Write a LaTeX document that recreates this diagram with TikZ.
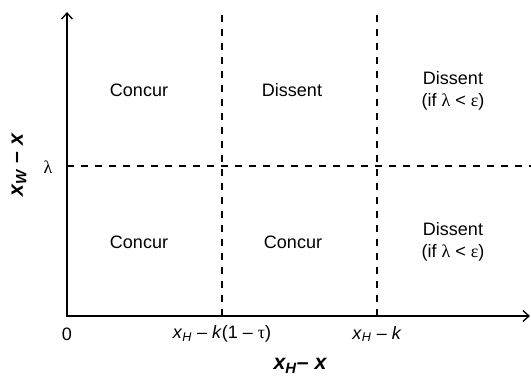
\documentclass[tikz,border=0pt]{standalone}
\usepackage{fontspec}
\usetikzlibrary{arrows.meta}
\setmainfont{Liberation Sans}
\newfontfamily\greekfont{Liberation Serif}
\newcommand{\lam}{{\greekfont λ}}
\newcommand{\eps}{{\greekfont ε}}
\newcommand{\tu}{{\greekfont τ}}
\begin{document}
\begin{tikzpicture}[
    x=0.75pt,y=-0.75pt,
    axis/.style={{Straight Barb[length=4.5pt,width=8pt]}-{Straight Barb[length=4.5pt,width=8pt]},line width=1pt},
    split/.style={line width=0.8pt,dash pattern=on 5.5pt off 5pt},
    cell/.style={align=center,font=\fontsize{13.5}{17}\selectfont},
    tick/.style={font=\fontsize{13.5}{16}\selectfont},
    title/.style={font=\fontsize{16}{18}\selectfont\bfseries\itshape}
]
\useasboundingbox (0,0) rectangle (531,378);
\coordinate (O) at (67,316);
\coordinate (ytop) at (67,12);
\coordinate (xend) at (530,316);
\coordinate (lo1) at (222,316);
\coordinate (hi1) at (222,13);
\coordinate (lo2) at (377,316);
\coordinate (hi2) at (377,13);
\coordinate (lamL) at (67,166);
\coordinate (lamR) at (531,166);
\draw[axis] (ytop) -- (O) -- (xend);
\draw[split] (lo1) -- (hi1);
\draw[split] (lo2) -- (hi2);
\draw[split] (lamL) -- (lamR);
% region labels
\node[cell] (c11) at (139,90) {Concur};
\node[cell] (c12) at (292,90) {Dissent};
\node[cell] (c13) at (453,91) {Dissent\\(if \lam{} < \eps)};
\node[cell] (c21) at (139,242) {Concur};
\node[cell] (c22) at (293,242) {Concur};
\node[cell] (c23) at (453,242) {Dissent\\(if \lam{} < \eps)};
% axis ticks and titles
\node[tick] (zero) at (67,334) {0};
\node[tick] (t1) at (222,334) {\textit{x}\textsubscript{\textit{H}} – \textit{k}(1 – \tu)};
\node[tick] (t2) at (377,334) {\textit{x}\textsubscript{\textit{H}} – \textit{k}};
\node[tick] (lam) at (48,167) {\lam};
\node[title] (xlab) at (300,366) {x\textsubscript{H}– x};
\node[title,rotate=90] (ylab) at (19,165) {x\textsubscript{W} – x};
\end{tikzpicture}
\end{document}
